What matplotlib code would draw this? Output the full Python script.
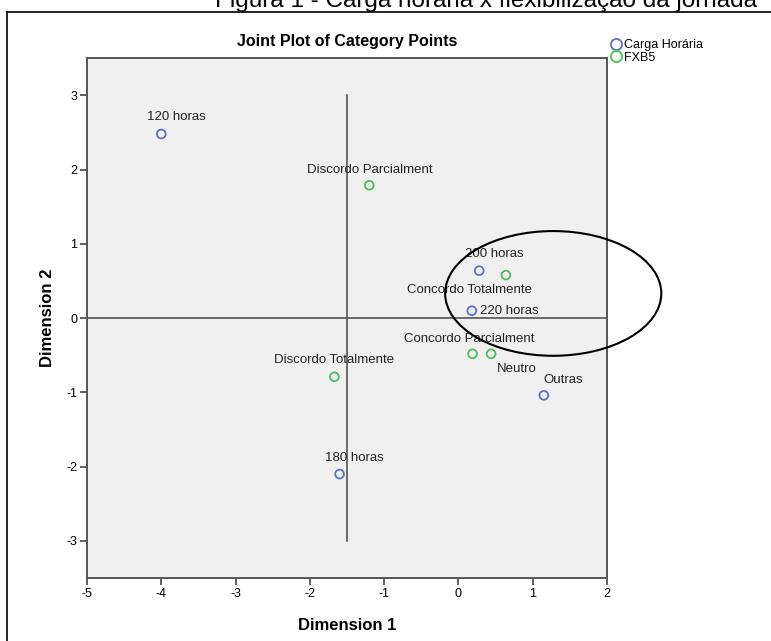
import matplotlib
matplotlib.use("Agg")
import matplotlib.pyplot as plt
from matplotlib.patches import Ellipse
from matplotlib.lines import Line2D

plt.rcParams["font.family"] = ["Liberation Sans", "DejaVu Sans"]
plt.rcParams["axes.unicode_minus"] = False

# %% DATA
carga_labels = ["120 horas", "200 horas", "220 horas", "180 horas", "Outras"]
carga_x = [-4.0, 0.28, 0.18, -1.6, 1.15]
carga_y = [2.48, 0.64, 0.10, -2.1, -1.04]

fxb5_labels = ["Discordo Parcialment", "Concordo Totalmente", "Concordo Parcialment",
               "Neutro", "Discordo Totalmente"]
fxb5_x = [-1.2, 0.64, 0.19, 0.44, -1.67]
fxb5_y = [1.79, 0.58, -0.48, -0.48, -0.79]

x_ticks = [-5, -4, -3, -2, -1, 0, 1, 2]
y_ticks = [-3, -2, -1, 0, 1, 2, 3]

# label offsets in pixels (dx, dy), as placed in the original
carga_offsets = [(15, 17), (15, 17), (38, 0), (15, 16), (19, 15)]
fxb5_offsets = [(1, 15), (-36, -15), (-3, 15), (26, -15), (0, 17)]

BLUE = "#5b72c6"
GREEN = "#4cbf5a"

# %% FIGURE
W, H = 771, 641
fig = plt.figure(figsize=(W / 100, H / 100), dpi=100)
ax = fig.add_axes([87 / W, 1 - 578 / H, (607 - 87) / W, (578 - 58.3) / H])
ax.set_facecolor("#f0f0f0")

ax.set_xlim(-5, 2)
ax.set_ylim(-3.5, 3.5)
ax.set_xticks(x_ticks)
ax.set_yticks(y_ticks)
ax.tick_params(direction="out", length=5, width=1.2, color="#444444",
               labelsize=9, pad=2)
for s in ax.spines.values():
    s.set_color("#555555")
    s.set_linewidth(1.4)

# reference lines
ax.axhline(0, color="#555555", lw=1.2, zorder=1)
ax.plot([-1.5, -1.5], [-3, 3], color="#555555", lw=1.2, zorder=1)

ax.scatter(carga_x, carga_y, s=40, facecolors="none", edgecolors=BLUE,
           linewidths=1.3, zorder=3)
ax.scatter(fxb5_x, fxb5_y, s=40, facecolors="none", edgecolors=GREEN,
           linewidths=1.3, zorder=3)

for lab, x, y, (dx, dy) in zip(carga_labels, carga_x, carga_y, carga_offsets):
    ax.annotate(lab, (x, y), xytext=(dx * 0.72, dy * 0.72), textcoords="offset points",
                ha="center", va="center", fontsize=9.5, color="#222222", zorder=4)
for lab, x, y, (dx, dy) in zip(fxb5_labels, fxb5_x, fxb5_y, fxb5_offsets):
    ax.annotate(lab, (x, y), xytext=(dx * 0.72, dy * 0.72), textcoords="offset points",
                ha="center", va="center", fontsize=9.5, color="#222222", zorder=4)

# hand-drawn ellipse highlighting the cluster
ax.add_patch(Ellipse((1.276, 0.333), 2.91, 1.68, fill=False, edgecolor="black",
                     lw=1.5, clip_on=False, zorder=5))

ax.set_xlabel("Dimension 1", fontsize=12, fontweight="bold", labelpad=13)
ax.set_ylabel("Dimension 2", fontsize=12, fontweight="bold", labelpad=8)
ax.set_title("Joint Plot of Category Points", fontsize=11.5, fontweight="bold", pad=9)

# legend
leg_handles = [
    Line2D([], [], ls="none", marker="o", ms=8, mfc="none", mec=BLUE, mew=1.3),
    Line2D([], [], ls="none", marker="o", ms=8, mfc="none", mec=GREEN, mew=1.3),
]
fig.legend(leg_handles, ["Carga Horária", "FXB5"], loc="upper left",
           bbox_to_anchor=(603 / W, 1 - 34 / H), frameon=False, fontsize=9,
           handletextpad=0.1, labelspacing=0.05, borderaxespad=0, handlelength=1.2)

# outer frame of the figure panel
fig.add_artist(Line2D([7 / W, 7 / W], [0, 1 - 12 / H], color="black", lw=1.2,
                      transform=fig.transFigure))
fig.add_artist(Line2D([7 / W, 1], [1 - 12 / H, 1 - 12 / H], color="black", lw=1.2,
                      transform=fig.transFigure))

# caption, cut off at the top in the original
fig.text(486 / W, 1 - 7 / H, "Figura 1 - Carga horária x flexibilização da jornada",
         ha="center", va="baseline", fontsize=17.5)

fig.savefig("out.png", dpi=100)
